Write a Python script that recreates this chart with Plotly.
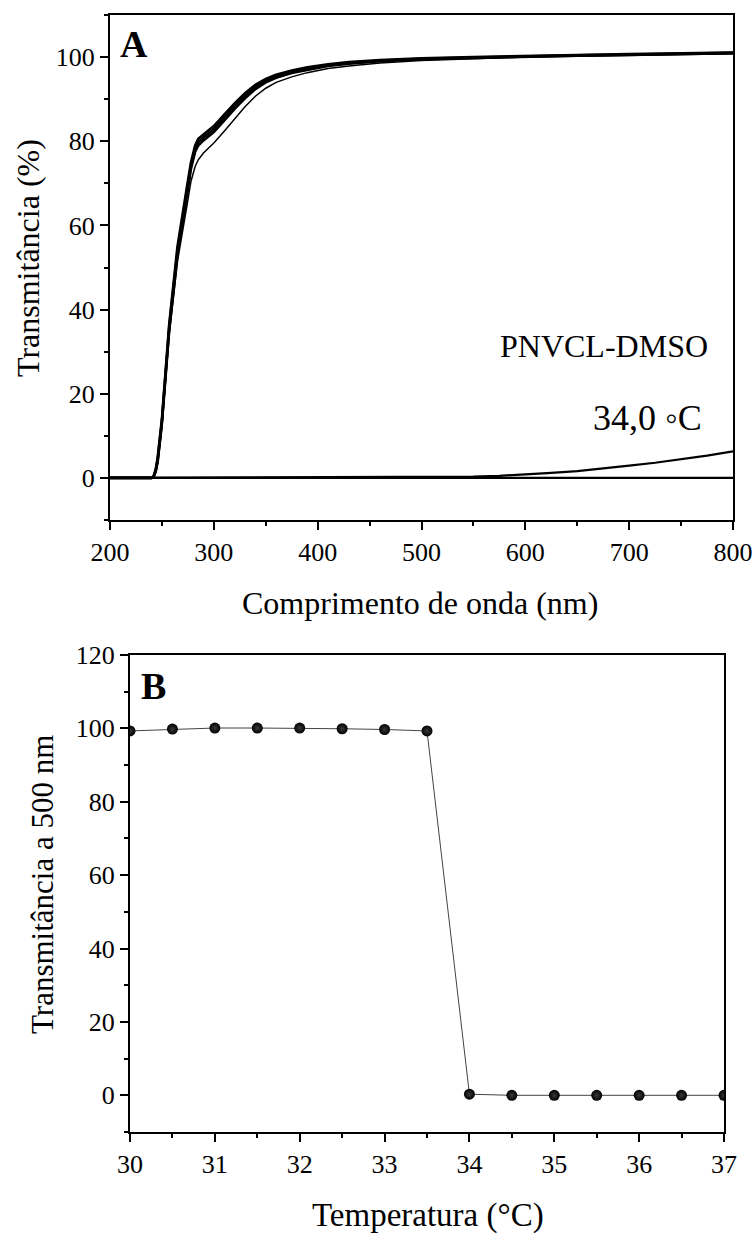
import plotly.graph_objects as go

# ---------------- data: panel A (spectra) ----------------
wavelength = [200, 230, 240, 242, 244, 246, 250, 257, 265, 274, 278, 282, 285, 290, 300, 310,
              320, 330, 340, 350, 360, 375, 390, 410, 430, 460, 500, 550, 600, 650, 700, 750, 800]
t_31_0 = [0, 0, 0, 0.4, 2.0, 5.0, 14, 36.5, 55, 69, 75, 79, 80.6, 81.6, 83.6, 86.3,
          89.0, 91.4, 93.4, 94.8, 95.8, 96.8, 97.6, 98.3, 98.8, 99.3, 99.7, 100.0, 100.3, 100.5, 100.7, 100.9, 101.1]
t_30_0 = [0, 0, 0, 0.3, 1.7, 4.5, 13.5, 35.8, 54, 68, 74.2, 78.2, 79.8, 80.9, 82.9, 85.6,
          88.4, 90.8, 92.9, 94.4, 95.5, 96.5, 97.3, 98.1, 98.6, 99.1, 99.6, 99.9, 100.2, 100.4, 100.6, 100.8, 101.0]
t_32_0 = [0, 0, 0, 0.3, 1.5, 4.0, 13, 35, 53, 67, 73.5, 77.5, 79.0, 80.2, 82.2, 84.9,
          87.7, 90.2, 92.4, 94.0, 95.1, 96.2, 97.0, 97.9, 98.4, 99.0, 99.5, 99.8, 100.1, 100.3, 100.5, 100.7, 100.9]
t_33_5 = [0, 0, 0, 0.2, 1.2, 3.5, 12, 34, 51.5, 64.5, 70.5, 74, 75.6, 77.2, 79.6, 82.4,
          85.4, 88.2, 90.7, 92.6, 94.0, 95.3, 96.3, 97.3, 97.9, 98.6, 99.2, 99.6, 100.0, 100.2, 100.4, 100.6, 100.8]

wavelength_34 = [200, 300, 400, 500, 520, 550, 575, 600, 625, 650, 675, 700, 725, 750, 775, 800]
t_34_0 = [0, 0.05, 0.05, 0.1, 0.15, 0.3, 0.5, 0.8, 1.2, 1.6, 2.2, 2.9, 3.6, 4.4, 5.3, 6.3]

wavelength_flat = [200, 800]
t_above_34 = [0, 0]

# ---------------- data: panel B ----------------
temperature = [30, 30.5, 31, 31.5, 32, 32.5, 33, 33.5, 34, 34.5, 35, 35.5, 36, 36.5, 37]
trans_500 = [99.3, 99.8, 100.1, 100.1, 100.1, 99.9, 99.7, 99.3, 0.3, 0.0, 0.0, 0.0, 0.0, 0.0, 0.0]

W, H = 755, 1236
FONT = "Liberation Serif, Times New Roman, serif"

fig = go.Figure()

for ys, w in [(t_30_0, 2.6), (t_31_0, 2.6), (t_32_0, 2.6)]:
    fig.add_trace(go.Scatter(x=wavelength, y=ys, mode="lines",
                             line=dict(color="black", width=w), xaxis="x", yaxis="y",
                             showlegend=False))
fig.add_trace(go.Scatter(x=wavelength, y=t_33_5, mode="lines",
                         line=dict(color="black", width=1.5), xaxis="x", yaxis="y", showlegend=False))
fig.add_trace(go.Scatter(x=wavelength_flat, y=t_above_34, mode="lines",
                         line=dict(color="black", width=2.2), xaxis="x", yaxis="y", showlegend=False))
fig.add_trace(go.Scatter(x=wavelength_34, y=t_34_0, mode="lines",
                         line=dict(color="black", width=2.2), xaxis="x", yaxis="y", showlegend=False))

fig.add_trace(go.Scatter(x=temperature, y=trans_500, mode="lines+markers",
                         line=dict(color="#444", width=1),
                         marker=dict(size=11, color="black",
                                     gradient=dict(type="radial", color="#3a3a3a"),
                                     line=dict(width=0)),
                         xaxis="x2", yaxis="y2", showlegend=False))

def px_x(p):
    return p / W

def px_y(p):
    return 1 - p / H

axis_common = dict(showline=True, linewidth=2, linecolor="black", mirror=True,
                   ticks="outside", ticklen=8, tickwidth=2, tickcolor="black",
                   showgrid=False, zeroline=False, automargin=False,
                   tickfont=dict(family=FONT, size=26, color="black"))

fig.update_layout(
    template="none",
    width=W, height=H, autosize=False,
    margin=dict(l=0, r=0, t=0, b=0, autoexpand=False),
    paper_bgcolor="white", plot_bgcolor="white",
    xaxis=dict(domain=[px_x(110), px_x(733)], range=[200, 800], dtick=100, tick0=200,
               anchor="y", minor=dict(ticks="outside", ticklen=4, tickwidth=1.5, dtick=50, tickcolor="black"),
               **axis_common),
    yaxis=dict(domain=[px_y(520), px_y(15)], range=[-10, 110], dtick=20, tick0=0,
               anchor="x", minor=dict(ticks="outside", ticklen=4, tickwidth=1.5, dtick=10, tickcolor="black"),
               **axis_common),
    xaxis2=dict(domain=[px_x(130), px_x(724)], range=[30, 37], dtick=1, tick0=30,
                anchor="y2", minor=dict(ticks="outside", ticklen=4, tickwidth=1.5, dtick=0.5, tickcolor="black"),
                **axis_common),
    yaxis2=dict(domain=[px_y(1132), px_y(655)], range=[-10, 120], dtick=20, tick0=0,
                anchor="x2", minor=dict(ticks="outside", ticklen=4, tickwidth=1.5, dtick=10, tickcolor="black"),
                **axis_common),
)

def ann(text, x, y, size, bold=False, angle=0):
    if bold:
        text = "<b>" + text + "</b>"
    fig.add_annotation(text=text, x=px_x(x), y=px_y(y), xref="paper", yref="paper",
                       showarrow=False, textangle=angle, xanchor="center", yanchor="middle",
                       font=dict(family=FONT, size=size, color="black"))

ann("Comprimento de onda (nm)", 420, 603, 32)
ann("Transmitância (%)", 28, 258, 32, angle=-90)
ann("Temperatura (°C)", 428, 1215, 33)
ann("Transmitância a 500 nm", 42, 885, 31, angle=-90)
ann("A", 134, 44, 38, bold=True)
ann("B", 153, 686, 38, bold=True)
ann("PNVCL-DMSO", 604, 346, 32)
ann("34,0 ◦C", 647, 418, 36)

# remove the browser's default body margin so the 755x1236 figure fills the window
fig.write_html("out.html",
               config={"displayModeBar": False},
               post_script="document.body.style.margin='0';document.body.style.overflow='hidden';")
